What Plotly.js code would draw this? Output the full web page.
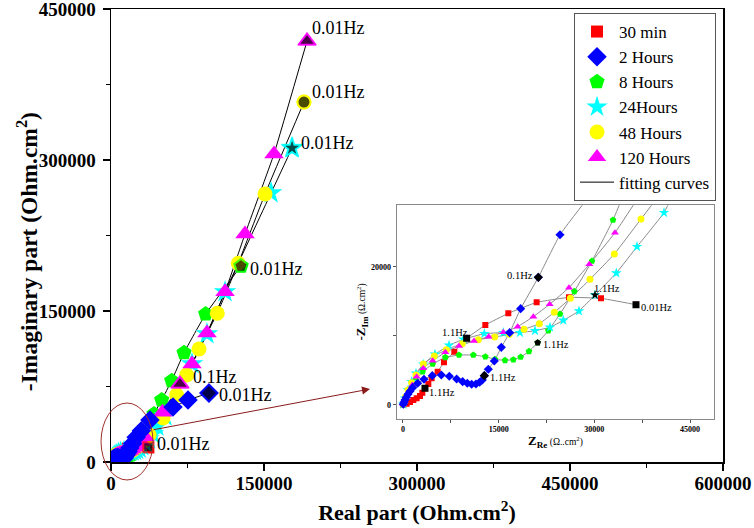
<!DOCTYPE html>
<html><head><meta charset="utf-8">
<script src="https://cdn.plot.ly/plotly-3.0.1.min.js"></script>
<style>html,body{margin:0;padding:0;background:#fff}</style>
</head><body><div id="chart" style="width:754px;height:528px"></div>
<script>
// ---- data (Nyquist plots, Ohm.cm^2) ----
const seriesNames = ['30 min', '2 Hours', '8 Hours', '24Hours', '48 Hours', '120 Hours'];

const min30Re = [52, 575, 1097, 1620, 2143, 2665, 3031, 3449, 3972, 4494, 5435, 6428, 8048, 9982, 12908, 16514, 20956, 26025, 31042, 36530];
const min30Im = [0, 193, 435, 725, 966, 1304, 1787, 2415, 3043, 3864, 4830, 6182, 7728, 9660, 11592, 13283, 14876, 15601, 15456, 14538];

const h2Re = [52, 157, 314, 523, 784, 1097, 1516, 2299, 3292, 4599, 6010, 7264, 8414, 9355, 10086, 10766, 11445, 12020, 12438, 12751, 13379, 14319, 15417, 16723, 18448, 21218, 24615, 29800, 38200, 60800, 75500, 96000];
const h2Im = [97, 386, 725, 1111, 1546, 1980, 2512, 3140, 3719, 4250, 4347, 4154, 3767, 3381, 3140, 2995, 3043, 3284, 3623, 4250, 5168, 6376, 8356, 10481, 13959, 18499, 24681, 31000, 41700, 54600, 61600, 68500];

const h8Re = [52, 261, 575, 993, 1463, 2038, 3083, 4651, 6637, 8780, 11027, 12908, 14424, 15992, 17298, 18448, 19754, 21113, 22785, 24615, 26862, 29631, 32924, 42200, 49700, 59500, 71600, 92800, 127400];
const h8Im = [97, 628, 1304, 2077, 2753, 3623, 4830, 5941, 6907, 7245, 7245, 7004, 6617, 6472, 6569, 6955, 7776, 9032, 10771, 13186, 16470, 20866, 26807, 47700, 61600, 80800, 108600, 147000, 194700];

const h24Re = [52, 314, 784, 1359, 2038, 3188, 5017, 7212, 9459, 12751, 15730, 18343, 20695, 23047, 25137, 27593, 30102, 33446, 36687, 40920, 45000, 52900, 79400, 94100, 111800, 156900, 177500];
const h24Im = [97, 966, 2174, 3381, 4589, 5893, 7342, 8646, 9515, 10336, 10481, 10481, 10771, 11254, 12268, 13621, 15939, 19127, 22943, 27869, 35500, 45700, 97400, 127200, 169000, 267200, 311900];

const h48Re = [52, 366, 784, 1359, 2038, 3188, 4912, 6794, 9302, 11811, 14372, 16671, 18971, 21375, 23726, 26235, 29318, 33133, 37314, 51000, 64400, 74200, 86300, 104200, 124800, 151000, 189200];
const h48Im = [97, 1111, 2174, 3236, 4347, 5941, 7100, 8018, 8887, 9467, 9853, 10240, 10964, 11785, 13427, 15456, 18209, 21880, 26951, 43700, 66500, 86400, 112300, 147700, 197400, 266200, 357600];

const h120Re = [52, 418, 941, 1463, 2143, 3188, 4651, 6637, 8780, 11131, 13431, 15730, 17977, 20433, 22994, 26025, 29213, 33237, 50500, 67600, 79400, 94100, 111800, 131400, 159800, 192200];
const h120Im = [97, 966, 2029, 2898, 4106, 5313, 6424, 7631, 8549, 9274, 9902, 10529, 11351, 12800, 14587, 17002, 20383, 24971, 49500, 77500, 97400, 128200, 169000, 226500, 306000, 418200];

// frequency-marked points (main plot)
const markMainRe = [36530, 96000, 127400, 177500, 189200, 192200, 67600];
const markMainIm = [14538, 68500, 194700, 311900, 357600, 418200, 77500];
const markMainSeries = [0, 1, 2, 3, 4, 5, 5];
const markMainText = ['0.01Hz', '0.01Hz', '0.01Hz', '0.01Hz', '0.01Hz', '0.01Hz', '0.1Hz'];

// frequency-marked points (inset)
const markInRe = [3449, 9982, 12751, 21113, 21218, 30102, 36530];
const markInIm = [2415, 9660, 4250, 9032, 18499, 15939, 14538];
const markInSeries = [0, 0, 1, 2, 1, 3, 0];
const markInText = ['1.1Hz', '1.1Hz', '1.1Hz', '1.1Hz', '0.1Hz', '1.1Hz', '0.01Hz'];

// ---- styling ----
const serif = 'Liberation Serif, Times New Roman, serif';
const seriesRe = [min30Re, h2Re, h8Re, h24Re, h48Re, h120Re];
const seriesIm = [min30Im, h2Im, h8Im, h24Im, h48Im, h120Im];
const colors = ['#FF0000', '#0000FF', '#00FF00', '#00FFFF', '#FFFF00', '#FF00FF'];
const symbols = ['square', 'diamond', 'pentagon', 'star', 'circle', 'triangle-up'];
const mainSize = [12, 15, 16, 17, 15, 17];
const insetSize = [6, 7, 7, 8, 7, 7];
const drawOrder = [0, 2, 3, 4, 5, 1];

const traces = [];
drawOrder.forEach(i => {
  traces.push({x: seriesRe[i], y: seriesIm[i], mode: 'lines', xaxis: 'x', yaxis: 'y',
    line: {color: '#000', width: 1, shape: 'spline', smoothing: 0.3},
    name: 'fitting curves', showlegend: i === 0, legendrank: 7, hoverinfo: 'skip'});
  traces.push({x: seriesRe[i], y: seriesIm[i], mode: 'lines', xaxis: 'x2', yaxis: 'y2',
    line: {color: '#8a8a8a', width: 1, shape: 'spline', smoothing: 0.3},
    showlegend: false, hoverinfo: 'skip'});
});
drawOrder.forEach(i => {
  traces.push({x: seriesRe[i], y: seriesIm[i], mode: 'markers', xaxis: 'x', yaxis: 'y',
    marker: {symbol: symbols[i], size: mainSize[i], color: colors[i], line: {width: 0}},
    name: seriesNames[i], legendrank: i + 1});
  traces.push({x: seriesRe[i], y: seriesIm[i], mode: 'markers', xaxis: 'x2', yaxis: 'y2',
    marker: {symbol: symbols[i], size: insetSize[i], color: colors[i], line: {width: 0}},
    showlegend: false});
});
traces.push({x: markMainRe, y: markMainIm, mode: 'markers', xaxis: 'x', yaxis: 'y', showlegend: false,
  marker: {symbol: markMainSeries.map(s => symbols[s]), size: markMainSeries.map(s => mainSize[s] - 2),
    color: '#000', line: {color: markMainSeries.map(s => colors[s]), width: 2}}});
traces.push({x: markInRe, y: markInIm, mode: 'markers', xaxis: 'x2', yaxis: 'y2', showlegend: false,
  marker: {symbol: markInSeries.map(s => symbols[s]), size: 7, color: '#000', line: {width: 0}}});

const mainLabelShift = [[7, 3], [8, -2], [7, -3], [7, 5], [6, 10], [3, 13], [11, 7]];
const inLabelCfg = [['left', 2, -4], ['right', 3, 6], ['left', 4, -2], ['left', 3, -2], ['right', -3, 2], ['left', -3, 7], ['left', 3, -3]];

const annotations = [];
markMainText.forEach((t, k) => {
  annotations.push({x: markMainRe[k], y: markMainIm[k], xref: 'x', yref: 'y', text: t, showarrow: false,
    xanchor: 'left', yanchor: 'middle', xshift: mainLabelShift[k][0], yshift: mainLabelShift[k][1],
    font: {family: serif, size: 18, color: '#000'}});
});
markInText.forEach((t, k) => {
  annotations.push({x: markInRe[k], y: markInIm[k], xref: 'x2', yref: 'y2', text: t, showarrow: false,
    xanchor: inLabelCfg[k][0], yanchor: 'middle', xshift: inLabelCfg[k][1], yshift: inLabelCfg[k][2],
    font: {family: serif, size: 10.5, color: '#000'}});
});
// main y-axis title
annotations.push({x: -0.137, y: 0.4636, xref: 'paper', yref: 'paper', textangle: -90, showarrow: false,
  xanchor: 'center', yanchor: 'middle', text: '-Imaginary part (Ohm.cm<sup>2</sup>)',
  font: {family: serif, size: 23.5, weight: 'bold', color: '#000'}});
// zoom arrow
annotations.push({x: 0.4232, y: 0.1611, xref: 'paper', yref: 'paper', ax: -218, ay: 41, text: '',
  showarrow: true, arrowhead: 2, arrowsize: 1.6, arrowwidth: 1, arrowcolor: '#8b1a1a'});

const mainTick = {family: serif, size: 19, weight: 'bold', color: '#000'};
const mainTitle = {family: serif, size: 22, weight: 'bold', color: '#000'};
const insetTick = {family: serif, size: 8, weight: 'bold', color: '#000'};

const layout = {
  width: 754, height: 528,
  margin: {l: 111, r: 31, t: 9, b: 66},
  paper_bgcolor: '#fff', plot_bgcolor: '#fff',
  showlegend: true,
  legend: {x: 0.9886, xanchor: 'right', y: 0.9912, yanchor: 'top', bgcolor: '#fff', itemwidth: 34,
    bordercolor: '#555', borderwidth: 1, font: {family: serif, size: 17, color: '#000'}},
  xaxis: {domain: [0, 1], range: [0, 600000], tickmode: 'linear', tick0: 0, dtick: 150000, tickformat: 'd',
    ticks: 'outside', ticklen: 7, tickwidth: 1.5, tickcolor: '#000',
    minor: {dtick: 75000, ticks: 'outside', ticklen: 4, tickwidth: 1.5, tickcolor: '#000'},
    showline: true, linewidth: 1.5, linecolor: '#000', mirror: true, showgrid: false, zeroline: false,
    tickfont: mainTick, ticklabelstandoff: -3, ticklabeloverflow: 'allow',
    title: {text: 'Real part (Ohm.cm<sup>2</sup>)', font: mainTitle, standoff: 11}},
  yaxis: {domain: [0, 1], range: [0, 450000], tickmode: 'linear', tick0: 0, dtick: 150000, tickformat: 'd',
    ticks: 'outside', ticklen: 7, tickwidth: 1.5, tickcolor: '#000',
    minor: {dtick: 75000, ticks: 'outside', ticklen: 4, tickwidth: 1.5, tickcolor: '#000'},
    showline: true, linewidth: 1.5, linecolor: '#000', mirror: true, showgrid: false, zeroline: false,
    tickfont: mainTick, ticklabelstandoff: 3, ticklabeloverflow: 'allow'},
  xaxis2: {domain: [0.4668, 0.9858], anchor: 'y2', range: [-988, 48808], tickmode: 'linear', tick0: 0, dtick: 15000,
    tickformat: 'd', ticks: 'outside', ticklen: 3, tickwidth: 1, tickcolor: '#555',
    minor: {dtick: 7500, ticks: 'outside', ticklen: 3, tickwidth: 1, tickcolor: '#555'},
    showline: true, linewidth: 1, linecolor: '#888', mirror: true, showgrid: false, zeroline: false,
    tickfont: insetTick, ticklabeloverflow: 'allow',
    title: {text: '<b>Z<sub>Re</sub></b><span style="font-size:9.5px"> (Ω..cm<sup>2</sup>)</span>',
      font: {family: serif, size: 13, color: '#000'}, standoff: 2}},
  yaxis2: {domain: [0.0956, 0.5667], anchor: 'x2', range: [-1986, 28942], tickmode: 'linear', tick0: 0, dtick: 20000,
    tickformat: 'd', ticks: 'outside', ticklen: 3, tickwidth: 1, tickcolor: '#555',
    minor: {dtick: 10000, ticks: 'outside', ticklen: 3, tickwidth: 1, tickcolor: '#555'},
    showline: true, linewidth: 1, linecolor: '#888', mirror: true, showgrid: false, zeroline: false,
    tickfont: insetTick, ticklabeloverflow: 'allow',
    title: {text: '<b>-Z<sub>Im</sub></b><span style="font-size:9.5px"> (Ω.cm<sup>2</sup>)</span>',
      font: {family: serif, size: 13, color: '#000'}, standoff: 2}},
  shapes: [{type: 'circle', xref: 'paper', yref: 'paper', x0: -0.0163, x1: 0.0686, y0: -0.0397, y1: 0.1302,
    line: {color: '#a0302a', width: 1}, layer: 'above'}],
  annotations: annotations
};

Plotly.newPlot('chart', traces, layout, {displayModeBar: false, staticPlot: true});
</script>
</body></html>
